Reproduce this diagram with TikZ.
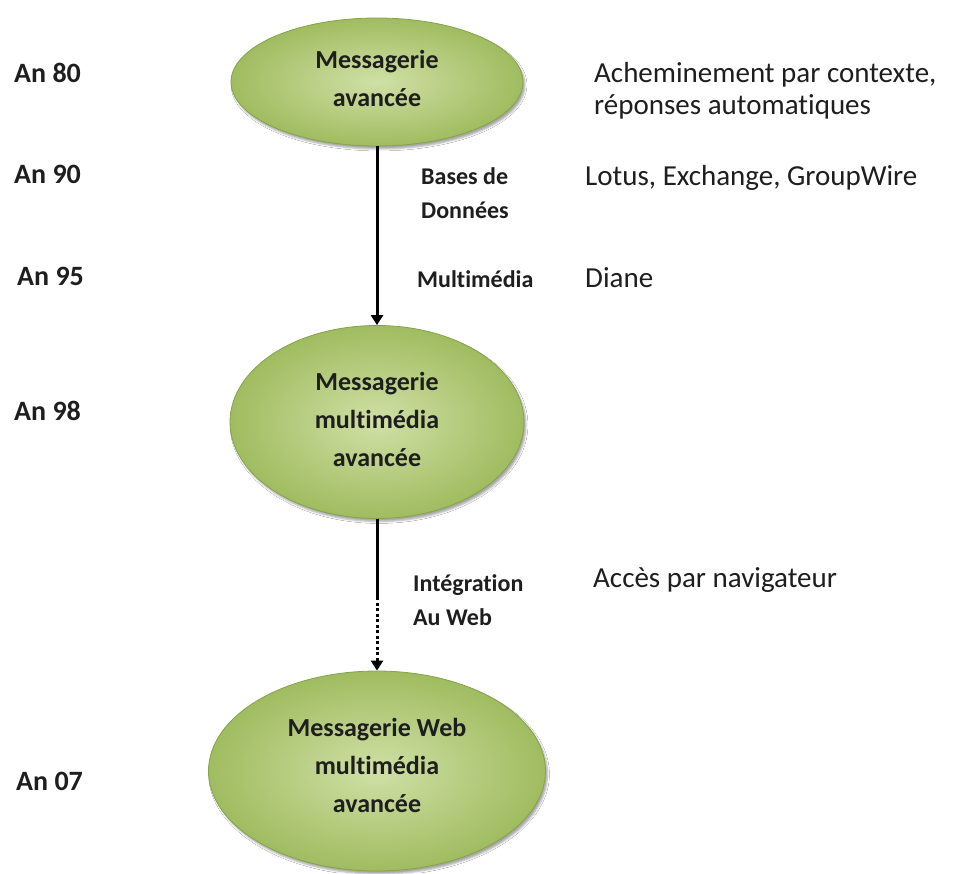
\documentclass[tikz,border=0pt]{standalone}
\usepackage{fontspec}
\setmainfont{Carlito}[RawFeature={-liga}]
\usetikzlibrary{shapes.geometric,arrows.meta,shadows.blur}

\definecolor{olivedark}{HTML}{A0BC60}
\definecolor{olivelight}{HTML}{D0E0A6}
\definecolor{oliveedge}{HTML}{86A34B}
\definecolor{inktext}{HTML}{1E1E1E}

\tikzset{
  stage/.style={ellipse, draw=oliveedge, line width=0.8pt,
    inner color=olivelight, outer color=olivedark, inner sep=0pt,
    blur shadow={shadow xshift=2pt, shadow yshift=-3pt, shadow opacity=35}},
  stagetext/.style={align=center, inner sep=0pt, text=inktext,
    font=\bfseries\fontsize{26}{38}\selectfont},
  year/.style={anchor=base west, inner sep=0pt, text=inktext,
    font=\bfseries\fontsize{28}{30}\selectfont},
  tech/.style={anchor=base west, align=left, inner sep=0pt, text=inktext,
    font=\bfseries\fontsize{24}{34}\selectfont},
  note/.style={anchor=base west, align=left, inner sep=0pt, text=inktext,
    font=\fontsize{29}{32}\selectfont},
  flow/.style={line width=3pt, -{Triangle[length=10pt,width=12pt]}},
  dotflow/.style={line width=3pt, dash pattern=on 3pt off 2.5pt,
    -{Triangle[length=10pt,width=12pt]}},
}

\begin{document}
\begin{tikzpicture}[x=1pt,y=-1pt]
  \useasboundingbox (0,0) rectangle (956,873);
  \fill[white] (0,0) rectangle (956,873);

  % the three stages
  \node[stage, minimum width=292pt, minimum height=128pt] (s1) at (377,82) {};
  \node[stage, minimum width=294pt, minimum height=193pt] (s2) at (377,422) {};
  \node[stage, minimum width=337pt, minimum height=200pt] (s3) at (377,771) {};

  \node[stagetext] (s1t) at ([yshift=4pt]s1.center) {Messagerie\\avancée};
  \node[stagetext] (s2t) at ([yshift=3pt]s2.center) {Messagerie\\multimédia\\avancée};
  \node[stagetext] (s3t) at ([yshift=6pt]s3.center) {Messagerie Web\\multimédia\\avancée};

  % transitions
  \coordinate (web) at (377,597);
  \draw[flow] (s1.south) -- (s2.north);
  \draw[line width=3pt] (s2.south) -- (web);
  \draw[dotflow] (web) -- (s3.north);

  % years
  \node[year] (y80) at (14,82)  {An 80};
  \node[year] (y90) at (14,183) {An 90};
  \node[year] (y95) at (17,285) {An 95};
  \node[year] (y98) at (14,420) {An 98};
  \node[year] (y07) at (16,790) {An 07};

  % technologies
  \node[tech] (t1) at (421,218) {Bases de\\Données};
  \node[tech] (t2) at (417,287) {Multimédia};
  \node[tech] (t3) at (413,625) {Intégration\\Au Web};

  % examples
  \node[note] (n1) at (594,114) {Acheminement par contexte,\\réponses automatiques};
  \node[note] (n2) at (585,185) {Lotus, Exchange, GroupWire};
  \node[note] (n3) at (585,287) {Diane};
  \node[note] (n4) at (593,587) {Accès par navigateur};
\end{tikzpicture}
\end{document}
